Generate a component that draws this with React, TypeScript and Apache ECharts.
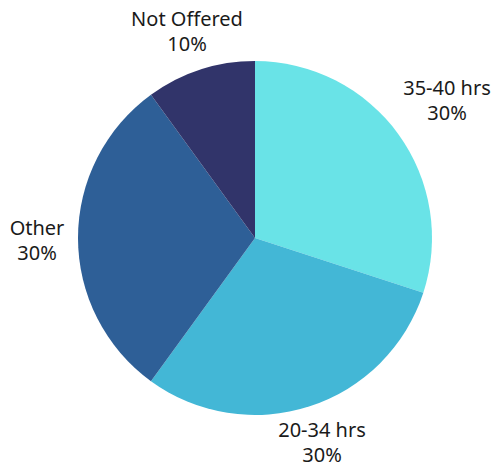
import React, { useEffect, useRef } from "react";
import * as echarts from "echarts";

const categories = ["35-40 hrs", "20-34 hrs", "Other", "Not Offered"];
const values = [30, 30, 30, 10];
const colors = ["#69E3E7", "#43B7D6", "#2E5F97", "#31346A"];
// label anchor positions (layout only)
const LABEL_POS: [number, number][] = [
  [447, 100],
  [322, 442],
  [37, 240],
  [187, 31],
];

export default function App() {
  const ref = useRef<HTMLDivElement>(null);
  useEffect(() => {
    if (!ref.current) return;
    const chart = echarts.init(ref.current, null, { renderer: "svg" });
    chart.setOption({
      animation: false,
      series: [
        {
          type: "pie",
          center: [255, 238],
          radius: 177,
          startAngle: 90,
          clockwise: true,
          avoidLabelOverlap: false,
          data: categories.map((c, i) => ({
            name: c,
            value: values[i],
            itemStyle: { color: colors[i] },
          })),
          itemStyle: { borderWidth: 0 },
          label: {
            show: true,
            position: "outside",
            formatter: "{b}\n{d}%",
            fontFamily: "Noto Sans",
            fontSize: 20,
            lineHeight: 25,
            color: "#1a1a1a",
            align: "center",
          },
          labelLine: { show: false },
          labelLayout: (params: any) => {
            const p = LABEL_POS[params.dataIndex];
            return { x: p[0], y: p[1], align: "center", verticalAlign: "middle" };
          },
          emphasis: { disabled: true },
        },
      ],
    });
    return () => chart.dispose();
  }, []);
  return (
    <div
      ref={ref}
      style={{ position: "absolute", left: 0, top: 0, width: 500, height: 468, background: "#fff" }}
    />
  );
}
